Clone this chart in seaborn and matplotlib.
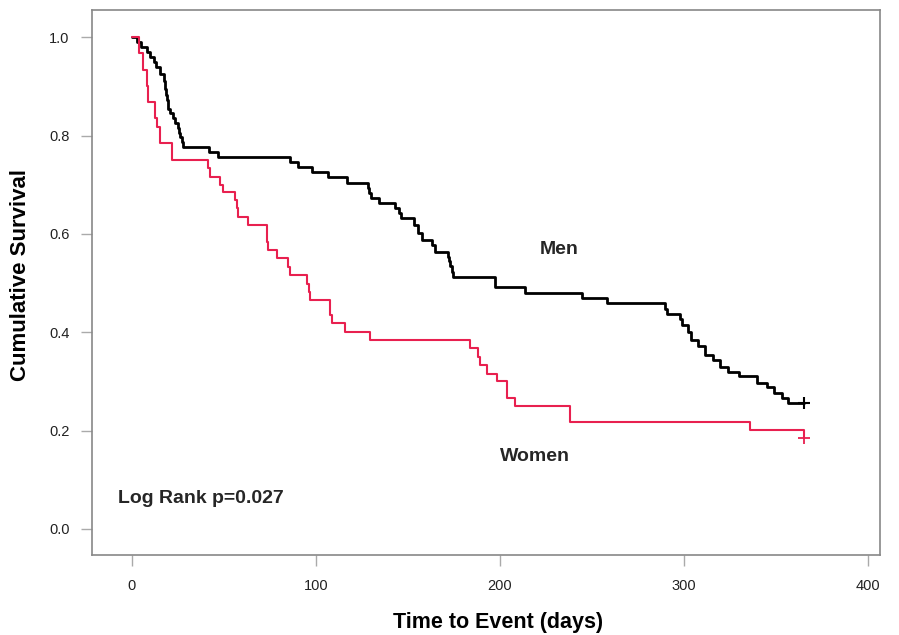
import matplotlib
matplotlib.use("Agg")
import matplotlib.pyplot as plt
import seaborn as sns
import pandas as pd

# Kaplan-Meier step points (day, survival after step)
men_times = [0, 3, 5, 8, 10, 12, 13, 15, 17.5, 18, 18.5, 19, 19.7, 20.6, 22.5, 23.4,
             25, 25.5, 26.1, 27, 28, 42, 47, 86, 90, 98, 106.5, 116.7, 128, 129, 130,
             134, 143, 145, 146, 153, 155.6, 157.4, 162.8, 164.7, 172, 172.5, 173,
             174, 174.6, 197.3, 213.6, 244.4, 258, 289.7, 290.5, 298, 299, 302, 304,
             307.6, 311.4, 315.9, 319.6, 324, 329.6, 339.5, 345, 348.6, 353, 356.7, 365]
men_surv = [1.0, 0.99, 0.98, 0.97, 0.96, 0.95, 0.94, 0.925, 0.91, 0.895, 0.882, 0.872,
            0.855, 0.845, 0.835, 0.825, 0.815, 0.805, 0.797, 0.787, 0.777, 0.767, 0.757,
            0.747, 0.737, 0.726, 0.716, 0.703, 0.693, 0.683, 0.673, 0.662, 0.652, 0.642,
            0.632, 0.618, 0.602, 0.587, 0.577, 0.564, 0.554, 0.544, 0.534, 0.523, 0.513,
            0.492, 0.479, 0.469, 0.459, 0.448, 0.438, 0.426, 0.415, 0.401, 0.384, 0.372,
            0.354, 0.343, 0.330, 0.320, 0.310, 0.297, 0.289, 0.276, 0.266, 0.256, 0.256]

women_times = [0, 4, 6, 8, 9, 12.5, 13.4, 15.2, 21.6, 41.5, 42.4, 47.8, 49.6, 56, 57,
               57.8, 63.2, 73.2, 73.6, 74.1, 78.6, 85, 85.9, 94.9, 96, 96.7, 107.6,
               108.5, 115.8, 129.3, 183.7, 188.2, 189.1, 192.8, 198.2, 203.6, 204, 208,
               238, 336, 365]
women_surv = [1.0, 0.967, 0.933, 0.900, 0.869, 0.835, 0.818, 0.784, 0.750, 0.734, 0.716,
              0.699, 0.686, 0.669, 0.652, 0.635, 0.618, 0.601, 0.584, 0.567, 0.550, 0.533,
              0.516, 0.499, 0.482, 0.465, 0.435, 0.418, 0.401, 0.384, 0.367, 0.350, 0.333,
              0.316, 0.300, 0.283, 0.266, 0.250, 0.217, 0.201, 0.185]

censor_men = (365, 0.256)
censor_women = (365, 0.185)

x_ticks = [0, 100, 200, 300, 400]
y_ticks = [0.0, 0.2, 0.4, 0.6, 0.8, 1.0]

sns.set_theme(style="white")
plt.rcParams['font.family'] = ['Liberation Sans', 'DejaVu Sans']

df = pd.concat([
    pd.DataFrame({"time": men_times, "surv": men_surv, "group": "Men"}),
    pd.DataFrame({"time": women_times, "surv": women_surv, "group": "Women"}),
])

fig = plt.figure(figsize=(8.99, 6.35), dpi=100)
ax = fig.add_axes([0.1023, 0.126, 0.8767, 0.858])

sns.lineplot(data=df[df.group == "Men"], x="time", y="surv", color="black",
             linewidth=2.0, drawstyle="steps-post", estimator=None, ax=ax, legend=False)
sns.lineplot(data=df[df.group == "Women"], x="time", y="surv", color="#E8204F",
             linewidth=1.5, drawstyle="steps-post", estimator=None, ax=ax, legend=False)

# censor marks at end of follow-up
ax.plot([censor_men[0]], [censor_men[1]], marker="+", color="black", markersize=9,
        markeredgewidth=1.5, linestyle="none")
ax.plot([censor_women[0]], [censor_women[1]], marker="+", color="#E8204F", markersize=8,
        markeredgewidth=1.3, linestyle="none")

ax.set_xlim(-21.7, 406.5)
ax.set_ylim(-0.053, 1.055)
ax.set_xticks(x_ticks)
ax.set_yticks(y_ticks)
ax.set_xticklabels([str(t) for t in x_ticks])
ax.set_yticklabels([f"{t:.1f}" for t in y_ticks])
ax.tick_params(axis="both", direction="out", length=8, width=1, color="#aaaaaa",
               labelsize=10.5, labelcolor="#222222", bottom=True, left=True)
ax.tick_params(axis="x", pad=9)
ax.tick_params(axis="y", pad=8)
for side in ax.spines.values():
    side.set_color("#888888")
    side.set_linewidth(1.2)

ax.set_xlabel("Time to Event (days)", fontsize=15.5, fontweight="bold", color="black")
ax.set_ylabel("Cumulative Survival", fontsize=16, fontweight="bold", color="black")
ax.xaxis.set_label_coords(0.515, -0.104)
ax.yaxis.set_label_coords(-0.077, 0.514)

ax.text(232, 0.569, "Men", fontsize=14, fontweight="bold", ha="center", va="center")
ax.text(219, 0.148, "Women", fontsize=14, fontweight="bold", ha="center", va="center")
ax.text(-7.6, 0.061, "Log Rank p=0.027", fontsize=14, fontweight="bold", ha="left",
        va="center")

fig.savefig("out.png", dpi=100)
